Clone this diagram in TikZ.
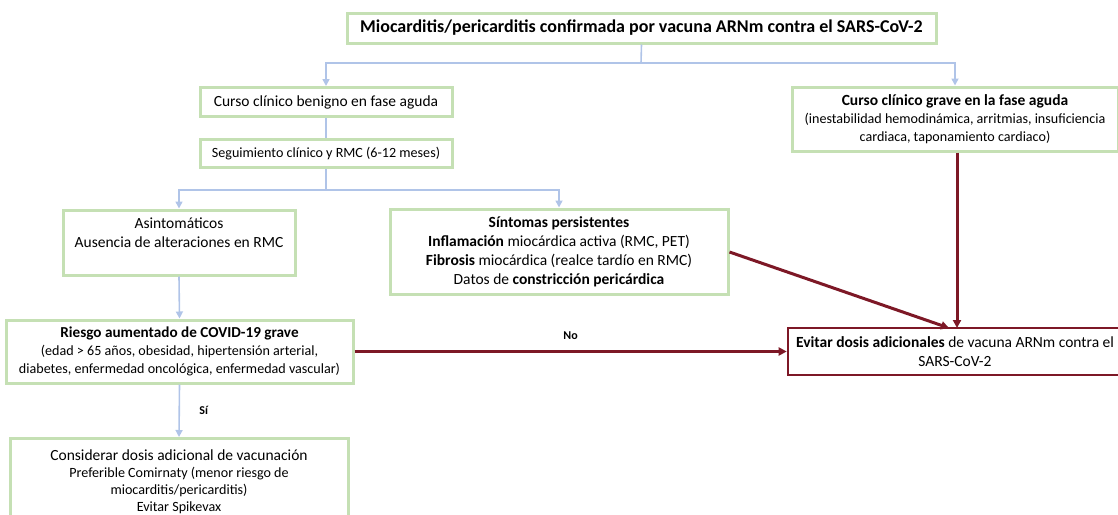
\documentclass[tikz,border=0pt]{standalone}
\usepackage{fontspec}
\setmainfont{Carlito}
\usetikzlibrary{arrows.meta}
\definecolor{boxgreen}{RGB}{197,224,180}
\definecolor{arrowblue}{RGB}{176,196,232}
\definecolor{darkred}{RGB}{125,24,38}
\newcommand{\fa}{\fontsize{15.5}{19}\selectfont}
\newcommand{\fb}{\fontsize{14.1}{18}\selectfont}
\begin{document}
\begin{tikzpicture}[x=1pt,y=-1pt,
  gbox/.style={draw=boxgreen, line width=3pt, fill=white, align=center,
    font=\fa, inner sep=3pt},
  rbox/.style={draw=darkred, line width=2.6pt, fill=white, align=center,
    font=\fa, inner sep=3pt},
  barrow/.style={draw=arrowblue, line width=1.6pt, -{Triangle[width=7pt,length=7pt]}},
  bline/.style={draw=arrowblue, line width=1.6pt},
  rarrow/.style={draw=darkred, line width=3pt, -{Triangle[width=8pt,length=8pt]}},
  lbl/.style={font=\fontsize{12}{14}\selectfont\bfseries}]
\useasboundingbox (0,0) rectangle (1118,514);
\clip (0,0) rectangle (1118,514);

\node[gbox, minimum width=589pt, minimum height=30pt, font=\fontsize{18}{21}\selectfont\bfseries] (top) at (641.5,28)
  {Miocarditis/pericarditis confirmada por vacuna ARNm contra el SARS-CoV-2};

\node[gbox, minimum width=252pt, minimum height=29pt] (benigno) at (326,102)
  {Curso clínico benigno en fase aguda};
\node[gbox, minimum width=252pt, minimum height=28pt, font=\fb] (seguim) at (326,153.5)
  {Seguimiento clínico y RMC (6-12 meses)};

\node[gbox, minimum width=326pt, minimum height=64pt, font=\fb] (grave) at (955,119)
  {{\fa\bfseries Curso clínico grave en la fase aguda}\\
   (inestabilidad hemodinámica, arritmias, insuficiencia\\
   cardiaca, taponamiento cardiaco)};

\node[gbox, minimum width=232pt, minimum height=65pt] (asint) at (179,242.5)
  {Asintomáticos\\Ausencia de alteraciones en RMC\\\mbox{}};

\node[gbox, minimum width=338pt, minimum height=85pt] (sint) at (559,251.5)
  {\textbf{Síntomas persistentes}\\
   \textbf{Inflamación} miocárdica activa (RMC, PET)\\
   \textbf{Fibrosis} miocárdica (realce tardío en RMC)\\
   Datos de \textbf{constricción pericárdica}};

\node[gbox, minimum width=347pt, minimum height=63pt, font=\fb] (riesgo) at (179.5,351.5)
  {{\fontsize{15.2}{18}\selectfont\bfseries Riesgo aumentado de COVID-19 grave}\\
   (edad > 65 años, obesidad, hipertensión arterial,\\
   diabetes, enfermedad oncológica, enfermedad vascular)};

\node[gbox, minimum width=338pt, minimum height=86pt, anchor=north, inner ysep=2pt,
      font=\fontsize{14.1}{17}\selectfont] (consid) at (179,437)
  {{\fa Considerar dosis adicional de vacunación}\\
   Preferible Comirnaty (menor riesgo de\\
   miocarditis/pericarditis)\\
   Evitar Spikevax};

\node[rbox, minimum width=334pt, minimum height=47pt] (evitar) at (955,351.5)
  {\textbf{Evitar dosis adicionales} de vacuna ARNm contra el\\SARS-CoV-2};

% blue connectors
\draw[bline] (top.south) -- (641,63) coordinate (tj);
\draw[barrow] (tj) -| (benigno.north);
\draw[barrow] (tj) -| (grave.north);
\draw[bline] (benigno.south) -- (seguim.north);
\draw[bline] (seguim.south) -- (326,190) coordinate (sj);
\draw[barrow] (sj) -| (asint.north);
\draw[barrow] (sj) -| (sint.north);
\draw[barrow] (asint.south) -- (riesgo.north);
\draw[barrow] (riesgo.south) -- node[lbl, right=16pt, text=black] {Sí} (consid.north);

% red connectors
\draw[rarrow] (riesgo.east) -- node[lbl, above=7pt, text=black] {No} (evitar.west);
\draw[rarrow] (grave.south -| 957,0) -- (957,328);
\draw[rarrow] (sint.east |- 0,252) -- (949,328);
\end{tikzpicture}
\end{document}
